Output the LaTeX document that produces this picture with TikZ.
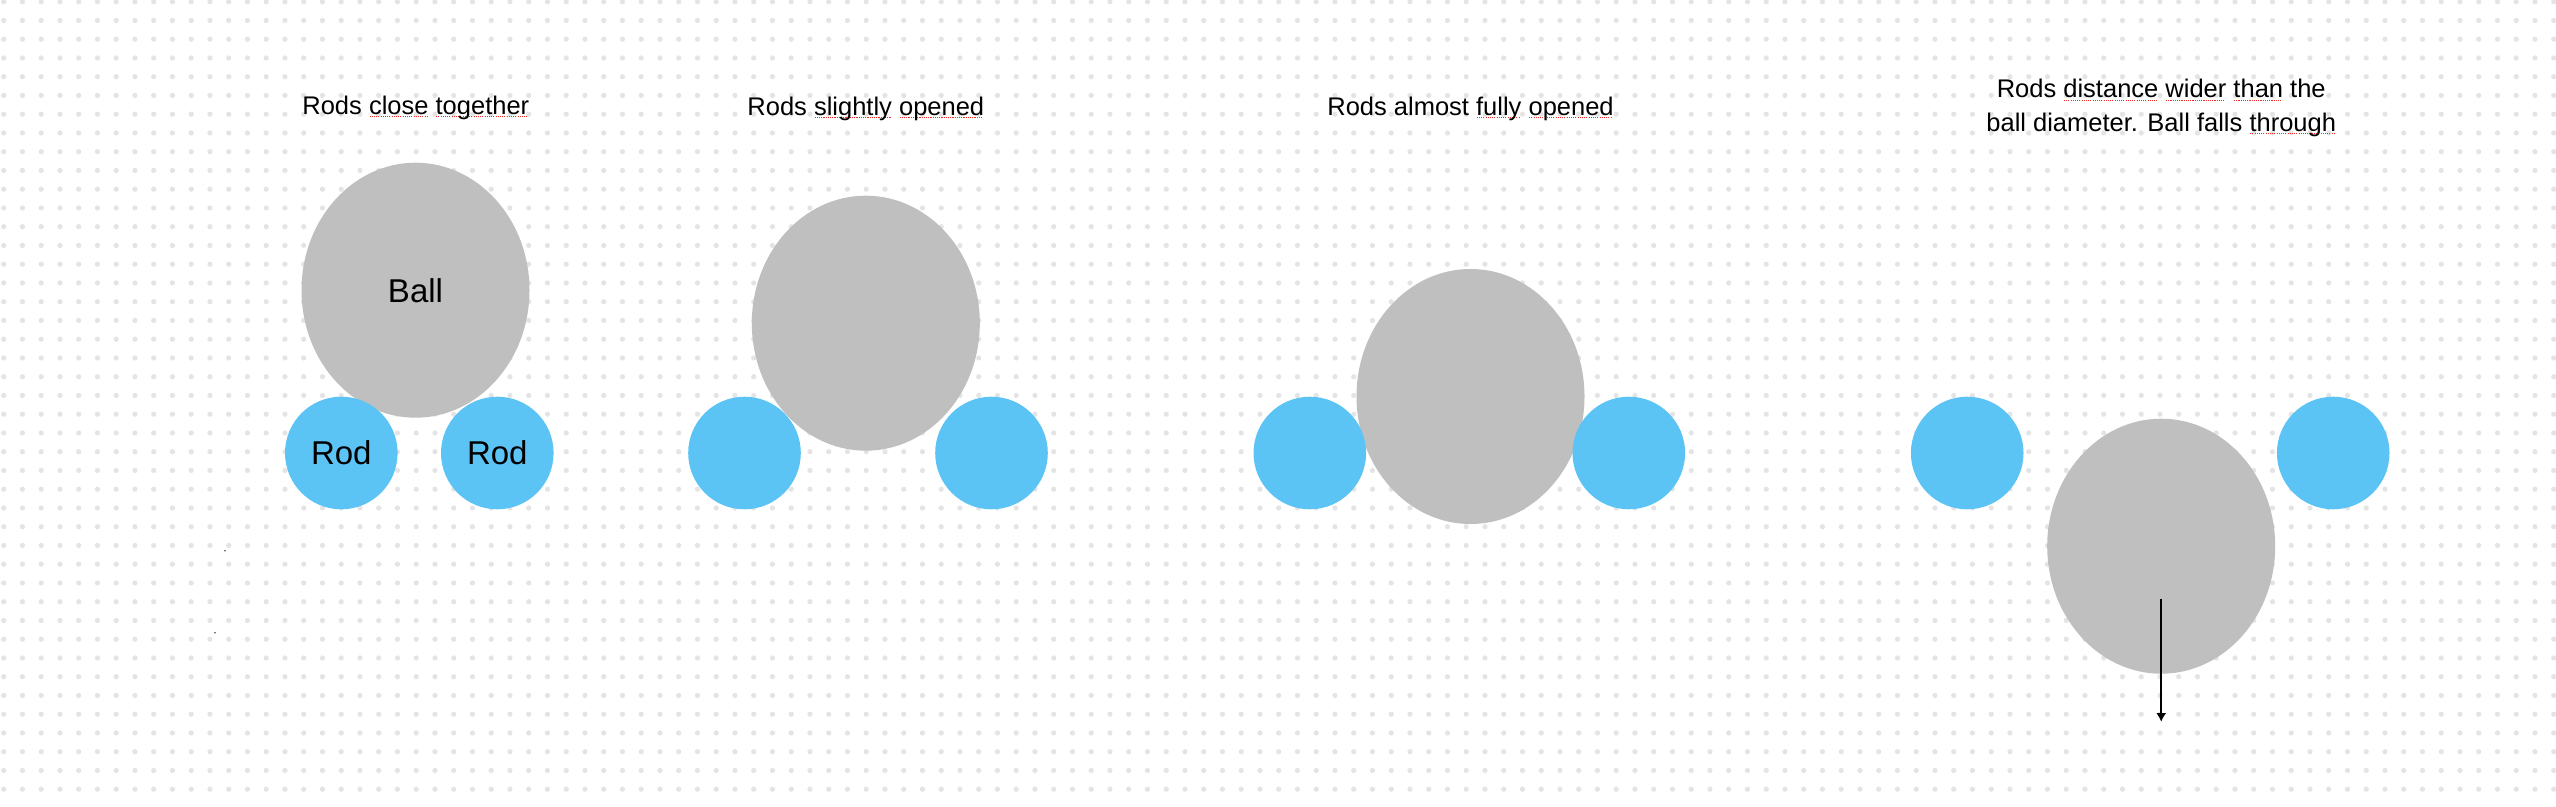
\documentclass[tikz,border=0pt]{standalone}
\usepackage{fontspec}
\setmainfont{Liberation Sans}
\usepackage{tikz}
\usetikzlibrary{shapes.geometric, arrows.meta, positioning}
\usepackage{xcolor}
\definecolor{ballgray}{RGB}{191,191,191}
\definecolor{rodblue}{RGB}{91,196,245}
\definecolor{dotgray}{RGB}{228,228,228}
\newsavebox\spellbox
\newcommand{\spellmark}[1]{\sbox\spellbox{#1}\rlap{\color{red!85}\raisebox{-3pt}{\leaders\hbox to 2.2pt{\hss\rule{1.1pt}{1.1pt}\hss}\hskip\wd\spellbox}}\usebox\spellbox}

\begin{document}
\begin{tikzpicture}[x=1pt, y=-1pt,
    ball/.style={ellipse, fill=ballgray, minimum width=228pt, minimum height=255pt, inner sep=0pt, font=\fontsize{33}{40}\selectfont},
    rod/.style={circle, fill=rodblue, minimum size=112.6pt, inner sep=0pt, font=\fontsize{33}{40}\selectfont},
    caption/.style={font=\fontsize{25.5}{33.3}\selectfont, align=center, anchor=base}]
    % Fundo
    \fill[white] (0,0) rectangle (2556,806);
    \useasboundingbox (0,0) rectangle (2556,806);
    % Grade de pontos
    \foreach \i in {0,...,136}
      \foreach \j in {0,...,42}
        \fill[dotgray] (3.7+18.75*\i, 1.7+18.75*\j) circle (2.6);
    \fill[black!70] (225,550.7) circle (0.9);
    \fill[black!70] (215,632.7) circle (0.9);
    % Titulos
    \node[caption] (title1) at (415.8,114.3) {Rods \spellmark{close} \spellmark{together}};
    \node[caption] (title2) at (865.8,115) {Rods \spellmark{slightly} \spellmark{opened}};
    \node[caption] (title3) at (1470.5,115) {Rods almost \spellmark{fully} \spellmark{opened}};
    \node[caption] (title4) at (2161.2,131) {Rods \spellmark{distance} \spellmark{wider} \spellmark{than} the\\ball diameter. Ball falls \spellmark{through}};
    % Bolas
    \node[ball] (ball1) at (415.5,290.2) {Ball};
    \node[ball] (ball2) at (865.8,323.2) {};
    \node[ball] (ball3) at (1470.5,396.5) {};
    \node[ball] (ball4) at (2161.2,546.2) {};
    % Hastes
    \node[rod] (rod1a) at (341.3,453) {Rod};
    \node[rod] (rod1b) at (497.3,453) {Rod};
    \node[rod] (rod2a) at (744.5,453) {};
    \node[rod] (rod2b) at (991.5,453) {};
    \node[rod] (rod3a) at (1309.8,453) {};
    \node[rod] (rod3b) at (1628.8,453) {};
    \node[rod] (rod4a) at (1967.2,453) {};
    \node[rod] (rod4b) at (2333.2,453) {};
    % Queda
    \coordinate[below=53.1pt of ball4.center] (fallstart);
    \coordinate[below=175.5pt of ball4.center] (fallend);
    \draw[-{Latex[length=8.5pt, width=10pt]}, line width=2pt] (fallstart) -- (fallend);
\end{tikzpicture}
\end{document}
